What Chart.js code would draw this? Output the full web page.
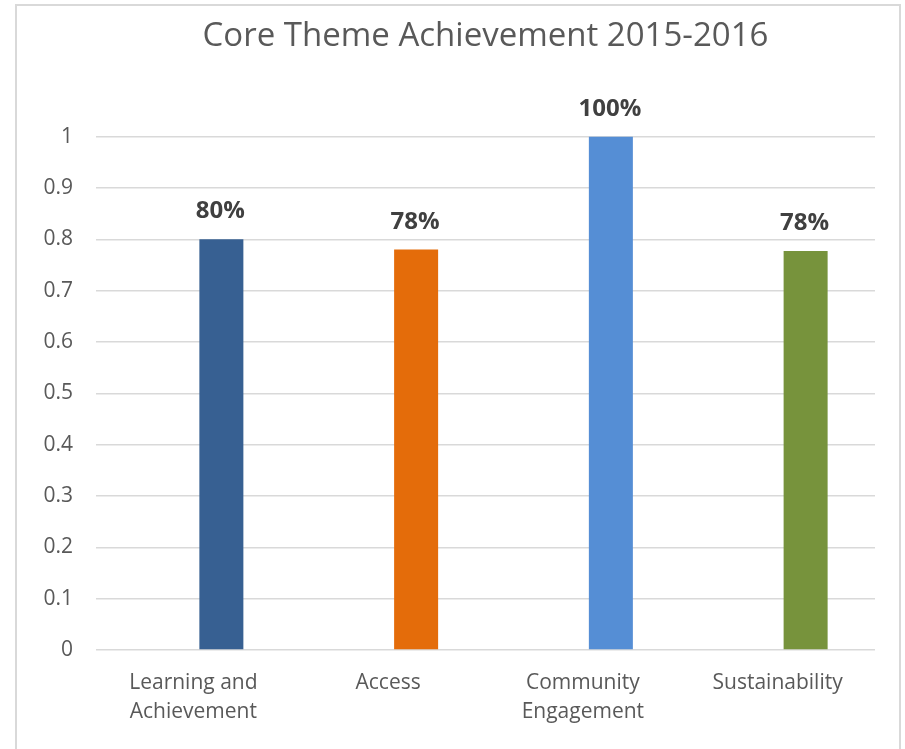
<!DOCTYPE html>
<html>
<head>
<meta charset="utf-8">
<script src="https://cdn.jsdelivr.net/npm/chart.js@4.4.1/dist/chart.umd.min.js"></script>
<style>
    html, body { margin: 0; padding: 0; background: #fff; }
    #cadre { position: absolute; left: 15px; top: 4px; width: 886px; height: 800px; border: 2px solid #d9d9d9; box-sizing: border-box; }
    #graphe { position: absolute; left: 0; top: 0; }
</style>
</head>
<body>
<div id="cadre"></div>
<canvas id="graphe" width="905" height="749"></canvas>
<script>
// Données
const categories = [['Learning and', 'Achievement'], 'Access', ['Community', 'Engagement'], 'Sustainability'];
const valeurs = [0.80, 0.78, 1.00, 0.777];
const etiquettes = ['80%', '78%', '100%', '78%'];
const couleurs = ['#376092', '#e46c0a', '#558ed5', '#77933c'];
const yLabels = ['0', '0.1', '0.2', '0.3', '0.4', '0.5', '0.6', '0.7', '0.8', '0.9', '1'];

Chart.defaults.font.family = '"Open Sans", sans-serif';
Chart.defaults.color = '#595959';

// Étiquettes de valeur au-dessus des barres
const etiquettesPlugin = {
    id: 'etiquettes',
    afterDatasetsDraw(chart) {
        const ctx = chart.ctx;
        const meta = chart.getDatasetMeta(1);
        ctx.save();
        ctx.font = 'bold 24px "Open Sans", sans-serif';
        ctx.fillStyle = '#404040';
        ctx.textAlign = 'center';
        ctx.textBaseline = 'alphabetic';
        meta.data.forEach((bar, i) => {
            ctx.fillText(etiquettes[i], bar.x - 1, bar.y - 21);
        });
        ctx.restore();
    }
};

const ctx = document.getElementById('graphe').getContext('2d');
new Chart(ctx, {
    type: 'bar',
    data: {
        labels: categories,
        datasets: [{
            // série vide : la barre visible est décalée à droite comme dans Excel
            data: [],
            categoryPercentage: 0.575,
            barPercentage: 0.786
        }, {
            data: valeurs,
            backgroundColor: couleurs,
            categoryPercentage: 0.575,
            barPercentage: 0.786
        }]
    },
    options: {
        responsive: false,
        animation: false,
        devicePixelRatio: 1,
        layout: { padding: { left: 0, right: 30, top: 0, bottom: 0 } },
        plugins: {
            legend: { display: false },
            tooltip: { enabled: false },
            title: {
                display: true,
                text: 'Core Theme Achievement 2015-2016',
                fullSize: false,
                color: '#595959',
                font: { size: 33, weight: 'normal' },
                padding: { top: 17, bottom: 80 }
            }
        },
        scales: {
            x: {
                grid: { display: false },
                border: { display: false },
                ticks: { padding: 11, font: { size: 21, lineHeight: 1.38 }, maxRotation: 0, autoSkip: false },
                afterFit(scale) { scale.height = 99; }
            },
            y: {
                min: 0,
                max: 1,
                grid: { color: '#d9d9d9', lineWidth: 1.5, drawTicks: false },
                border: { display: false },
                ticks: {
                    stepSize: 0.1,
                    padding: 23,
                    font: { size: 21 },
                    callback: (v, i) => yLabels[i]
                },
                afterFit(scale) { scale.width = 96; }
            }
        }
    },
    plugins: [etiquettesPlugin]
});
</script>
</body>
</html>
